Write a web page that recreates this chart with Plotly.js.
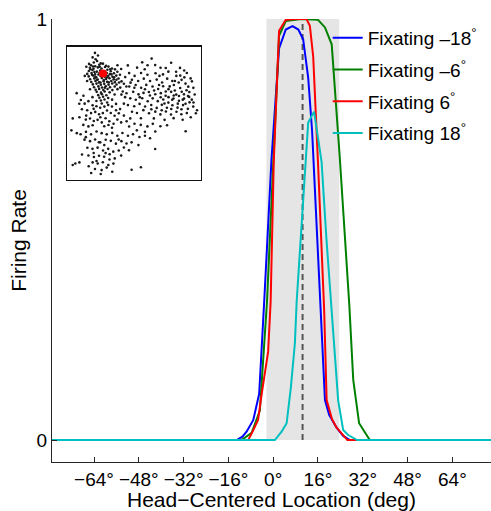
<!DOCTYPE html>
<html><head><meta charset="utf-8">
<script src="https://cdn.plot.ly/plotly-3.0.1.min.js"></script>
<style>html,body{margin:0;padding:0;background:#fff}</style>
</head><body><div id="chart" style="width:491px;height:511px"></div>
<script>
// ---- main tuning curves (head-centered location in deg, normalized firing rate)
const blueX  = [-80, -13, -11, -9.5, -7.1, -5, -3.2, -0.6, 2.1, 4.5, 6.9, 9, 10.7, 12.5, 13.9, 15.5, 17, 18.5, 20, 22.6, 25, 27.4, 80];
const blueY  = [0, 0, 0.008, 0.02, 0.048, 0.11, 0.33, 0.667, 0.93, 0.975, 0.983, 0.975, 0.952, 0.861, 0.734, 0.52, 0.33, 0.095, 0.06, 0.03, 0.01, 0, 0];
const greenX = [-80, -11.3, -7.7, -4.75, -2.2, 0, 2.1, 4.5, 10, 16, 18.5, 20.9, 22.4, 23.8, 27.2, 28.6, 30.7, 34.5, 80];
const greenY = [0, 0, 0.017, 0.07, 0.33, 0.667, 0.96, 0.995, 1, 0.998, 0.98, 0.94, 0.81, 0.67, 0.32, 0.143, 0.04, 0, 0];
const redX   = [-80, -8.9, -7.1, -5.4, -4.1, -1.8, -0.9, 0.2, 2.1, 4.5, 8, 11.9, 13.1, 14.3, 16, 18.2, 19.1, 21, 22.6, 26.5, 80];
const redY   = [0, 0, 0.024, 0.048, 0.11, 0.21, 0.33, 0.66, 0.972, 0.998, 1, 1, 0.984, 0.91, 0.66, 0.31, 0.095, 0.05, 0.03, 0, 0];
const cyanX  = [-80, 0.6, 3, 4.8, 6.3, 7.75, 8.4, 10, 11.5, 12.5, 14.6, 15.5, 17.3, 19, 20.8, 23.2, 25, 26.8, 30, 80];
const cyanY  = [0, 0, 0.02, 0.04, 0.124, 0.23, 0.33, 0.5, 0.66, 0.754, 0.78, 0.742, 0.66, 0.48, 0.32, 0.095, 0.024, 0.012, 0, 0];
const seriesNames = ["Fixating –18<sup>°</sup>", "Fixating –6<sup>°</sup>", "Fixating 6<sup>°</sup>", "Fixating 18<sup>°</sup>"];

// ---- shaded band and mean marker (deg)
const bandLo = -2.4, bandHi = 23.6;
const meanLoc = 10.5;

// ---- axis ticks
const xTickVals = [-64, -48, -32, -16, 0, 16, 32, 48, 64];
const xTickText = ["−64°", "−48°", "−32°", "−16°", "0°", "16°", "32°", "48°", "64°"];
const yTickVals = [0, 1];
const yTickText = ["0", "1"];

// ---- inset scatter (arbitrary 0-100 units)
const insetX = [
18.3,20.6,22.4,19.2,21.7,24.5,17.1,20.3,23.4,26.2,
28.6,16.2,19.0,22.3,25.1,27.8,30.4,33.1,15.4,18.2,
21.5,24.1,27.3,29.6,32.2,35.4,14.2,17.5,20.2,23.6,
26.4,29.1,31.5,34.6,37.2,15.3,18.7,21.1,24.4,27.6,
30.3,33.5,36.4,39.2,16.4,19.6,22.2,25.3,28.5,31.2,
34.4,38.1,17.3,20.5,23.2,26.7,29.4,32.6,35.3,40.4,
18.5,21.3,24.6,27.2,30.5,33.3,36.6,42.2,19.4,22.7,
25.5,28.3,31.6,35.2,39.4,20.6,23.3,26.5,29.7,33.4,
37.3,21.4,24.7,27.5,31.3,22.6,25.4,28.8,23.5,26.3,
30.2,24.6,27.4,16.6,19.7,22.8,25.6,28.4,23.7,20.4,
26.8,29.5,32.7,17.8,21.6,24.3,27.7,30.6,18.6,31.7,
34.7,36.5,38.6,15.6,13.5,37.3,40.1,43.2,44.1,41.3,
35.1,33.2,29.4,25.3,21.2,18.2,16.3,14.1,12.3,20.1,
45.2,52.3,58.1,63.4,70.2,78.3,85.1,90.3,46.2,50.4,
55.3,60.2,66.4,72.1,76.2,82.3,88.4,93.2,48.3,53.1,
57.4,62.2,67.3,71.4,75.3,79.2,84.1,89.3,94.2,46.3,
51.2,55.4,59.3,64.1,68.4,72.2,76.3,80.4,85.2,90.1,
95.3,44.2,49.3,53.4,57.2,61.3,66.2,70.4,74.1,78.3,
82.2,86.4,91.2,96.3,47.1,51.3,56.2,60.4,64.2,68.1,
72.3,76.2,80.1,84.3,88.2,92.4,45.3,50.1,54.2,58.4,
63.1,67.3,71.2,75.1,79.3,83.2,87.4,91.1,95.2,48.4,
52.2,57.1,61.4,66.2,70.1,74.3,78.2,82.4,86.1,90.3,
97.2,55.2,65.1,73.3,80.2,87.1,93.3,77.2,81.1,84.3,
87.2,79.1,74.2,70.3,83.4,86.2,89.3,92.1,78.4,73.2,
69.1,65.3,62.1,58.3,81.2,86.3,91.4,94.1,76.3,71.1,
63.2,54.3,50.2,47.3,43.1,42.2,40.3,56.2,66.1,74.2,
82.1,88.3,60.3,69.4,92.2,85.3,98.1,95.4,88.1,80.3,
6.1,9.3,12.2,15.1,18.3,21.2,24.1,27.3,30.2,33.1,
36.2,39.3,10.1,14.2,17.1,20.3,23.2,26.1,29.3,32.2,
35.1,38.3,42.2,3.1,8.2,13.1,16.3,19.2,22.1,25.3,
28.2,31.1,34.3,37.2,40.1,44.3,11.2,15.1,18.3,27.2,
33.1,46.2,50.3,55.1,60.2,64.3,70.1,75.2,52.1,58.3,
66.2,89.4,11.3,8.1,13.4,19.1,24.2,30.4,47.1,36.2,
2.1,6.2,9.1,13.2,17.1,21.3,25.2,29.1,33.3,37.2,
41.1,45.3,49.2,54.1,58.3,62.2,12.1,16.3,20.2,24.1,
28.3,32.2,36.1,40.3,44.2,48.1,53.3,66.1,14.3,18.2,
22.1,26.3,30.2,34.1,38.3,42.2,46.1,10.2,15.1,19.3,
23.2,27.1,31.3,35.2,40.1,18.3,22.2,26.1,30.3,34.2,
5.1,8.2,15.3,20.1,25.2,29.1,33.3,48.1,55.2,24.5,
17.2,3.1,23.1,27.2,19.1,31.2,13.1,38.2,21.3,28.2];
const insetY = [
92.1,90.7,93.5,88.3,89.4,87.6,86.2,85.5,86.6,87.4,
85.8,84.3,83.6,84.6,83.8,84.9,85.2,83.7,81.9,82.6,
81.4,82.3,81.6,82.8,81.7,83.1,79.7,80.4,79.3,80.6,
79.2,80.3,79.6,80.2,81.3,77.8,78.4,77.2,78.1,77.5,
78.3,77.6,78.4,79.1,75.7,76.3,75.4,76.6,75.8,76.4,
75.6,76.2,73.6,74.4,73.3,74.2,73.7,74.3,73.5,74.1,
71.8,72.4,71.5,72.2,71.6,72.5,71.7,72.3,69.6,70.3,
69.5,70.4,69.7,70.2,69.4,67.8,68.4,67.6,68.3,67.5,
68.2,66.2,65.6,66.4,65.8,63.7,64.4,63.6,61.8,62.5,
61.6,59.7,60.4,83.2,81.1,79.2,81.2,78.7,85.1,77.3,
75.1,77.2,79.3,79.1,75.2,73.2,69.3,73.4,85.3,83.2,
77.2,75.3,73.2,87.2,85.1,86.2,83.4,77.3,70.2,66.4,
64.2,60.3,58.2,57.4,59.3,62.2,68.1,74.3,78.2,95.5,
86.1,84.4,83.2,91.2,84.3,88.1,84.2,80.4,80.3,78.2,
80.4,79.1,80.2,79.3,81.4,78.2,77.1,76.3,75.2,74.4,
76.1,74.3,75.4,73.2,76.1,74.4,73.2,72.4,74.1,70.2,
71.3,69.2,71.4,70.2,68.3,70.4,68.2,71.3,69.1,67.4,
69.2,65.1,66.2,64.3,65.4,66.1,64.4,65.2,63.3,66.2,
64.1,66.3,63.1,64.2,61.3,60.2,61.4,59.1,61.3,59.2,
60.4,58.1,61.2,59.4,61.1,58.3,56.2,55.4,57.1,55.2,
56.3,54.1,56.4,54.2,56.1,54.3,56.2,53.4,55.1,51.2,
50.3,52.4,50.1,51.3,49.2,51.4,49.1,51.2,49.3,50.2,
50.1,46.3,46.2,45.1,46.4,45.2,47.1,70.3,67.2,63.1,
60.3,60.2,66.4,62.1,57.3,53.1,57.2,62.4,53.3,57.4,
71.3,67.2,63.4,68.1,74.3,75.2,70.1,60.3,62.2,52.3,
53.1,62.2,69.3,73.1,62.2,57.3,64.1,88.4,86.3,84.1,
81.3,82.2,86.2,78.2,66.1,78.4,52.3,58.2,64.3,63.4,
65.2,60.1,57.3,59.2,56.1,55.3,54.2,55.1,56.3,55.2,
57.1,53.2,53.1,52.3,50.2,51.1,49.3,50.2,52.1,50.3,
48.2,50.1,48.3,46.2,47.1,45.3,46.1,44.2,45.1,43.2,
46.3,44.1,42.2,45.3,43.2,44.1,41.3,40.2,41.1,40.3,
39.2,40.1,42.2,41.3,40.2,42.1,40.3,41.1,37.2,36.1,
36.3,36.5,63.2,57.2,48.3,53.4,47.1,41.2,46.2,52.3,
37.2,35.1,34.3,36.1,34.2,36.3,35.1,34.2,35.3,33.1,
35.2,33.1,34.3,32.2,33.1,31.3,30.2,29.1,30.3,28.2,
30.1,29.3,27.2,29.1,27.3,28.2,26.1,23.2,24.1,23.3,
24.2,22.1,23.3,21.2,22.1,24.3,22.2,19.1,18.3,17.2,
18.1,17.3,19.2,16.1,18.2,13.1,12.3,13.2,11.1,12.2,
12.3,13.1,10.2,8.1,7.3,9.2,6.1,7.6,9.4,4.4,
5.1,11.2,28.3,26.1,20.2,15.3,32.1,30.3,14.2,20.1];
const highlightX = [26.3];
const highlightY = [79.9];

const colors = ["#0000ff", "#008000", "#ff0000", "#00bfbf"];
const xs = [blueX, greenX, redX, cyanX];
const ys = [blueY, greenY, redY, cyanY];

const traces = xs.map((x, i) => ({
  x: x, y: ys[i], type: "scatter", mode: "lines",
  name: seriesNames[i], legendgroup: "g" + i,
  line: {color: colors[i], width: 2},
  xaxis: "x", yaxis: "y"
}));
traces.push({
  x: insetX, y: insetY, type: "scatter", mode: "markers",
  marker: {color: "#1a1a1a", size: 2.6}, showlegend: false,
  xaxis: "x2", yaxis: "y2", hoverinfo: "skip"
});
traces.push({
  x: highlightX, y: highlightY, type: "scatter", mode: "markers",
  marker: {color: "#ff0000", size: 8}, showlegend: false,
  xaxis: "x2", yaxis: "y2", hoverinfo: "skip"
});

const font = "Liberation Sans, Arial, Helvetica, sans-serif";
const layout = {
  width: 491, height: 511,
  margin: {l: 52, r: 0, t: 19, b: 49, pad: 0},
  paper_bgcolor: "#ffffff", plot_bgcolor: "rgba(0,0,0,0)",
  font: {family: font, size: 18, color: "#000"},
  showlegend: true,
  legend: {
    x: 0.628, xanchor: "left", y: 1.0, yanchor: "top",
    bgcolor: "rgba(0,0,0,0)", borderwidth: 0,
    font: {family: font, size: 19, color: "#000"},
    itemwidth: 30, tracegroupgap: 4
  },
  xaxis: {
    range: [-79, 77.8], showgrid: false, zeroline: false,
    showline: true, linecolor: "#262626", linewidth: 1,
    ticks: "inside", ticklen: 5, tickcolor: "#262626",
    tickvals: xTickVals, ticktext: xTickText,
    tickfont: {family: font, size: 19, color: "#000"},
    title: {text: "Head−Centered Location (deg)", font: {family: font, size: 21, color: "#000"}, standoff: 6},
    domain: [0, 1], anchor: "y"
  },
  yaxis: {
    range: [-0.052, 1.0], showgrid: false, zeroline: false,
    showline: true, linecolor: "#262626", linewidth: 1,
    ticks: "inside", ticklen: 5, tickcolor: "#262626",
    tickvals: yTickVals, ticktext: yTickText,
    tickfont: {family: font, size: 19, color: "#000"},
    title: {text: "Firing Rate", font: {family: font, size: 21, color: "#000"}, standoff: 4},
    domain: [0, 1], anchor: "x"
  },
  xaxis2: {
    domain: [0.035, 0.339], anchor: "y2", range: [-1, 101],
    showgrid: false, zeroline: false, showticklabels: false, ticks: "",
    showline: true, mirror: true, linecolor: "#111", linewidth: 1.5
  },
  yaxis2: {
    domain: [0.637, 0.937], anchor: "x2", range: [0, 100],
    showgrid: false, zeroline: false, showticklabels: false, ticks: "",
    showline: true, mirror: true, linecolor: "#111", linewidth: 1.5
  },
  shapes: [
    {type: "rect", xref: "x", yref: "y", x0: bandLo, x1: bandHi, y0: 0, y1: 1,
     fillcolor: "#e5e5e5", line: {width: 0}, layer: "below"},
    {type: "line", xref: "x", yref: "y", x0: meanLoc, x1: meanLoc, y0: 0, y1: 1,
     line: {color: "#555555", width: 2, dash: "6px,4px"}, layer: "below"}
  ]
};

Plotly.newPlot("chart", traces, layout, {staticPlot: true, displayModeBar: false});
</script>
</body></html>
